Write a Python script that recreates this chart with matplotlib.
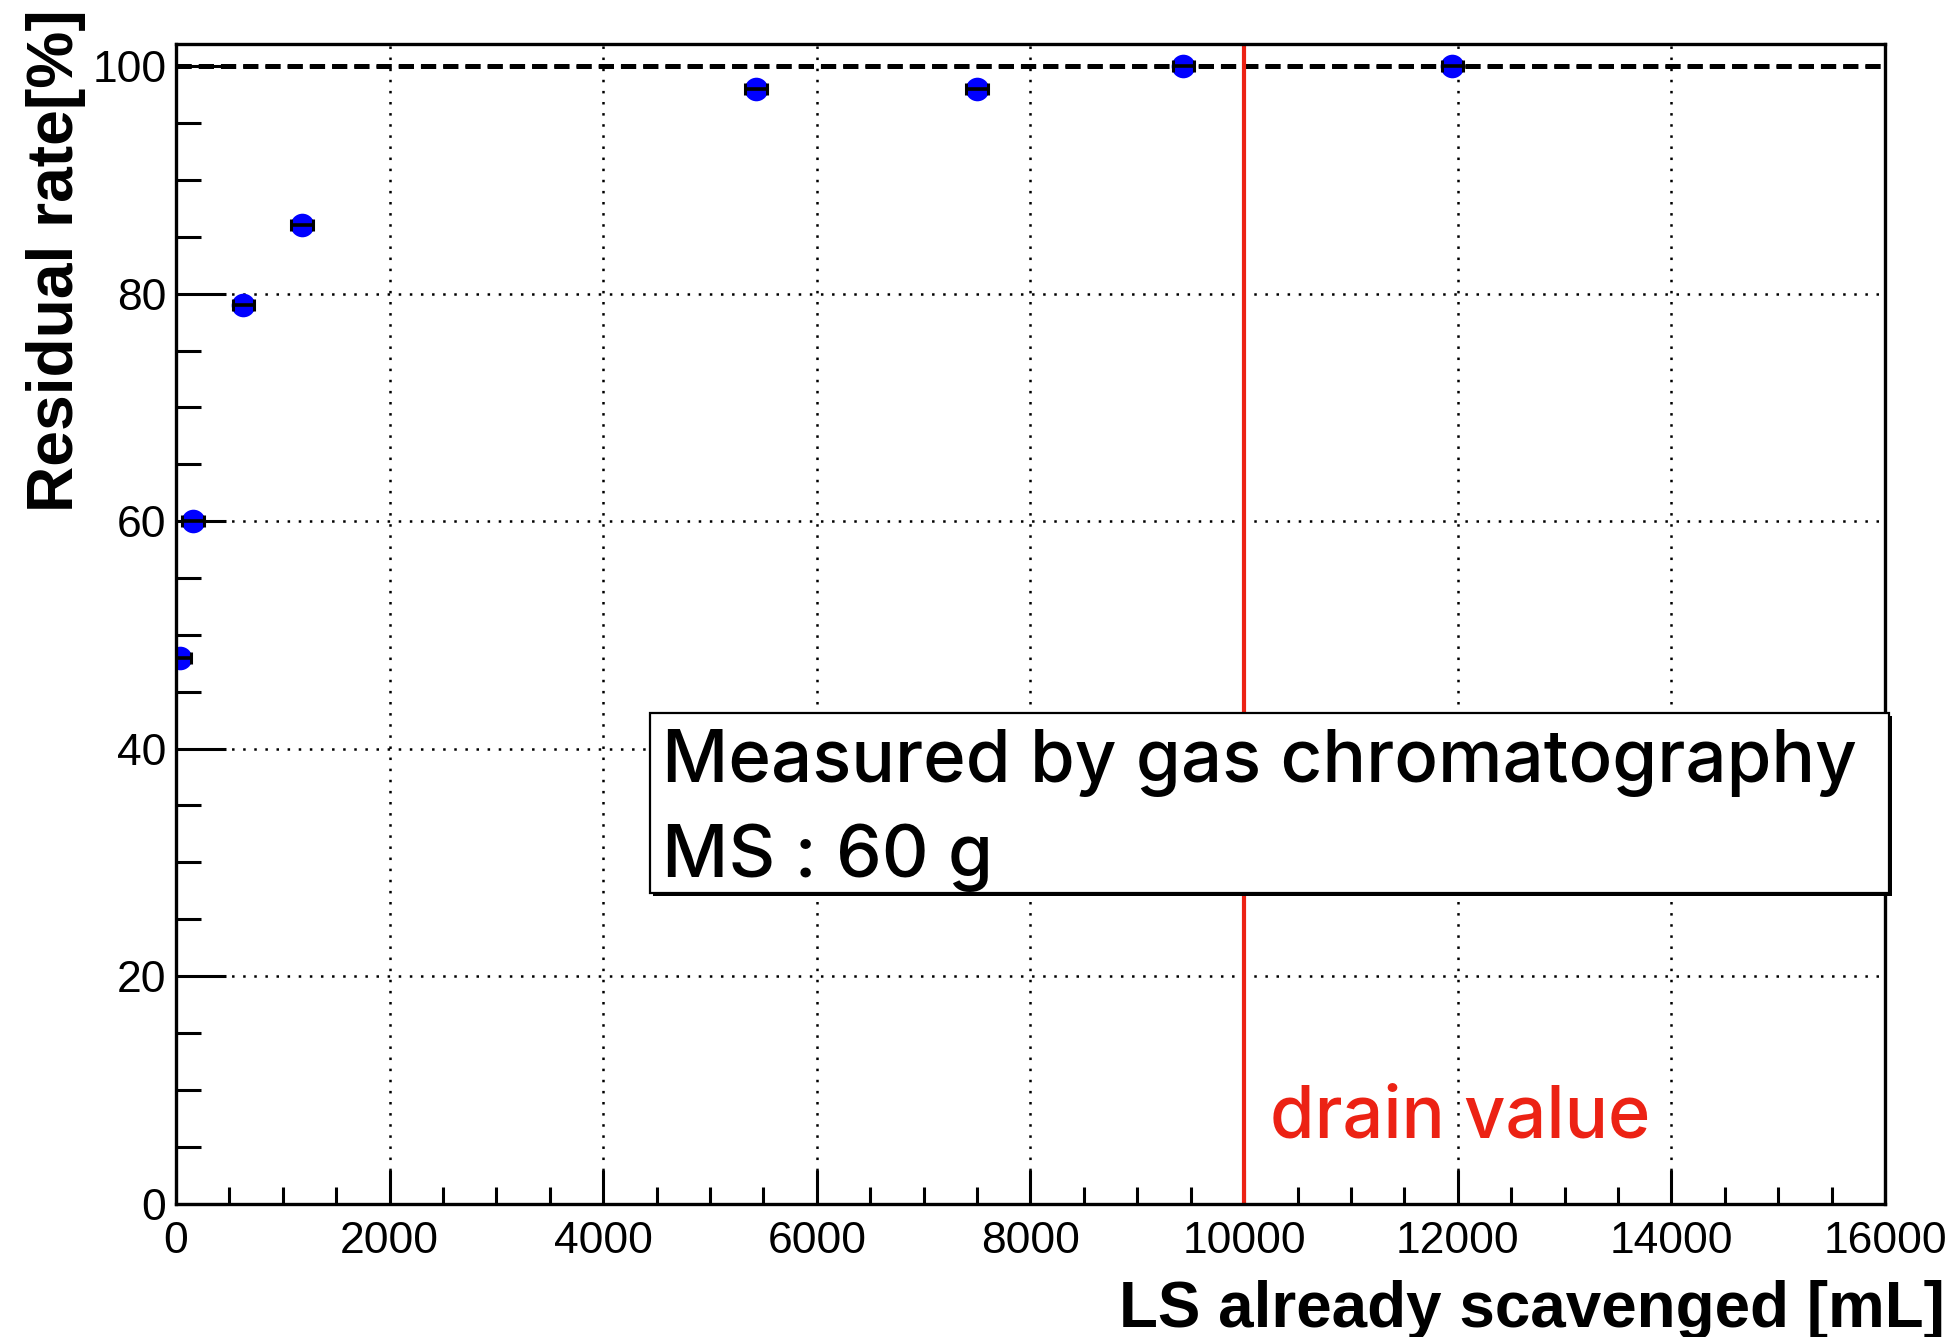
import matplotlib
matplotlib.use("Agg")
import matplotlib.pyplot as plt
from matplotlib.ticker import MultipleLocator, FixedLocator
from matplotlib.patches import Rectangle

plt.rcParams["lines.scale_dashes"] = False

# ---------------- data ----------------
volume_ml = [40, 160, 630, 1180, 5430, 7500, 9430, 11950]
residual_pct = [48, 60, 79, 86, 98, 98, 100, 100]
volume_err_ml = [100, 100, 100, 100, 100, 100, 100, 100]
drain_ml = 10000
reference_pct = 100
x_ticks = [0, 2000, 4000, 6000, 8000, 10000, 12000, 14000, 16000]
y_ticks = [0, 20, 40, 60, 80, 100]
x_label = "LS already scavenged [mL]"
y_label = "Residual rate[%]"
box_lines = ["Measured by gas chromatography", "MS : 60 g"]
drain_label = "drain value"

# ---------------- figure ----------------
W, H = 1958, 1337
DPI = 100
fig = plt.figure(figsize=(W / DPI, H / DPI), dpi=DPI)
fig.patch.set_facecolor("white")


def fx(px):
    return px / W


def fy(py):
    return 1 - py / H


ax_l, ax_r, ax_t, ax_b = 176, 1885, 43.5, 1203.5
ax = fig.add_axes([fx(ax_l), fy(ax_b), fx(ax_r - ax_l), (ax_b - ax_t) / H])
ax.set_xlim(0, 16000)
ax.set_ylim(0, 102)

RED = "#EC2214"
TICK_FONT = "Liberation Sans"
BOX_FONT = "Inter"

# grid
ax.set_axisbelow(True)
ax.grid(True, which="major", color="black", lw=1.8, linestyle=(0, (1.8, 6.2)))

# reference dashed line
ax.axhline(reference_pct, color="black", lw=3.6, dashes=(11, 5), zorder=3)

# drain line
ax.axvline(drain_ml, color=RED, lw=3.0, zorder=3)

# points
ax.plot(volume_ml, residual_pct, "o", color="#0000FF", ms=17, mew=0, zorder=5)
ax.errorbar(volume_ml, residual_pct, xerr=volume_err_ml, fmt="none",
            ecolor="black", elinewidth=2.6, capsize=4.5, capthick=2.2, zorder=6)

# axes styling
for s in ax.spines.values():
    s.set_linewidth(2.4)
    s.set_color("black")
    s.set_zorder(7)

ax.xaxis.set_major_locator(FixedLocator(x_ticks))
ax.yaxis.set_major_locator(FixedLocator(y_ticks))
ax.xaxis.set_minor_locator(MultipleLocator(500))
ax.yaxis.set_minor_locator(MultipleLocator(5))
ax.set_xticklabels([str(v) for v in x_ticks])
ax.set_yticklabels([str(v) for v in y_ticks])

ax.tick_params(axis="both", which="both", direction="in", top=False, right=False,
               width=2.2, color="black")
ax.tick_params(axis="y", which="major", length=36, pad=7)
ax.tick_params(axis="y", which="minor", length=18)
ax.tick_params(axis="x", which="major", length=24.5, pad=12.5)
ax.tick_params(axis="x", which="minor", length=12.5)
for lab in ax.get_xticklabels() + ax.get_yticklabels():
    lab.set_fontfamily(TICK_FONT)
    lab.set_fontsize(32)

# axis titles
xl = fig.text(fx(1945), fy(1327), x_label, ha="right", va="baseline",
              fontfamily=TICK_FONT, fontweight="bold", fontsize=45.6)
yl = fig.text(fx(26), fy(9), y_label, ha="left", va="top", rotation=90,
              fontfamily=TICK_FONT, fontweight="bold", fontsize=46)

# text box (with slight shadow)
bx_l, bx_r, bx_t, bx_b = 650, 1889, 713, 893
shadow = Rectangle((fx(bx_l + 3), fy(bx_b + 3)), fx(bx_r - bx_l), (bx_b - bx_t) / H,
                   transform=fig.transFigure, facecolor="black", edgecolor="none",
                   zorder=8)
box = Rectangle((fx(bx_l), fy(bx_b)), fx(bx_r - bx_l), (bx_b - bx_t) / H,
                transform=fig.transFigure, facecolor="white", edgecolor="black",
                lw=1.6, zorder=9)
fig.add_artist(shadow)
fig.add_artist(box)
t1 = fig.text(fx(662), fy(782), box_lines[0], ha="left", va="baseline",
              fontfamily=BOX_FONT, fontweight="medium", fontsize=50, zorder=10)
t2 = fig.text(fx(662), fy(877), box_lines[1], ha="left", va="baseline",
              fontfamily=BOX_FONT, fontweight="medium", fontsize=50, zorder=10)

td = fig.text(fx(1270), fy(1138), drain_label, ha="left", va="baseline",
              fontfamily=BOX_FONT, fontweight="medium", fontsize=50, color=RED,
              zorder=10)

# fit text widths to the reference
fig.canvas.draw()
r = fig.canvas.get_renderer()


def fit(t, target, vertical=False):
    bb = t.get_window_extent(r)
    cur = bb.height if vertical else bb.width
    t.set_fontsize(t.get_fontsize() * target / cur)


fit(t1, 1195)
t2.set_fontsize(t1.get_fontsize())
fit(td, 380)
fit(xl, 825)
fit(yl, 503, vertical=True)

fig.savefig("out.png", dpi=DPI)
